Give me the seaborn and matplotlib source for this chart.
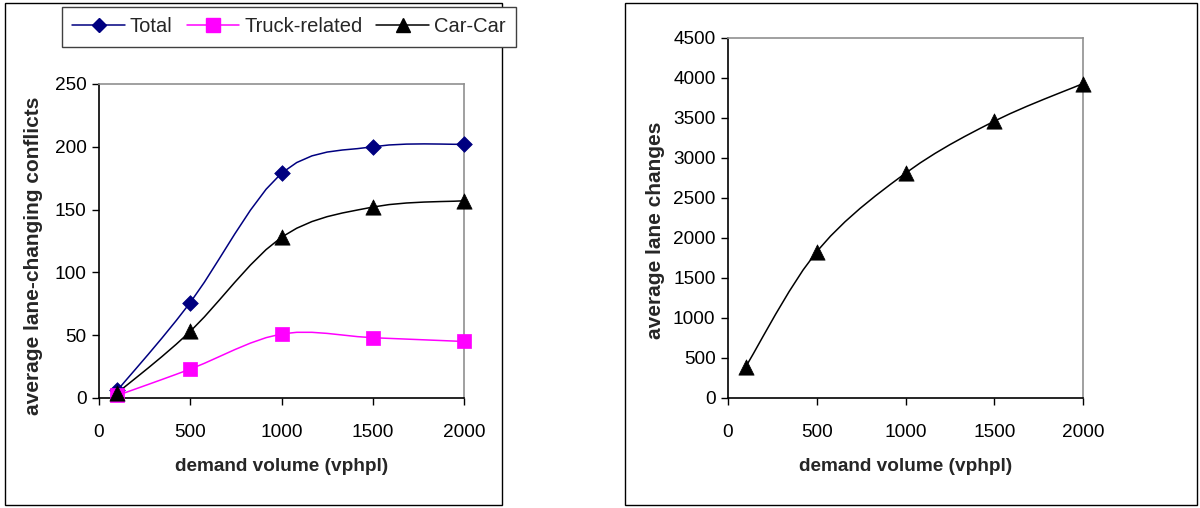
import numpy as np
import pandas as pd
import matplotlib
matplotlib.use("Agg")
import matplotlib.pyplot as plt
from matplotlib.lines import Line2D
from matplotlib.patches import Rectangle
import seaborn as sns

# demand volume (vphpl)
demand = [100, 500, 1000, 1500, 2000]

# average lane-changing conflicts
total = [6, 76, 179, 200, 202]
truck_related = [2, 23, 51, 48, 45]
car_car = [4, 53, 128, 152, 157]

# average lane changes
lane_changes = [390, 1830, 2810, 3460, 3930]

x_ticks = [0, 500, 1000, 1500, 2000]
left_y_ticks = [0, 50, 100, 150, 200, 250]
right_y_ticks = list(range(0, 5000, 500))

sns.set_style("white")
plt.rcParams["font.family"] = ["Liberation Sans", "DejaVu Sans"]


def smooth_path(xs, ys, steps=6):
    """Catmull-Rom curve through the points (spreadsheet-style smoothed line)."""
    p = np.column_stack([xs, ys]).astype(float)
    ext = np.vstack([p[0], p, p[-1]])
    out = []
    for i in range(1, len(ext) - 2):
        p0, p1, p2, p3 = ext[i - 1], ext[i], ext[i + 1], ext[i + 2]
        c1 = p1 + (p2 - p0) / 6.0
        c2 = p2 - (p3 - p1) / 6.0
        t = np.linspace(0, 1, steps + 1)[:-1] if i < len(ext) - 3 else np.linspace(0, 1, steps + 1)
        t = t[:, None]
        seg = ((1 - t) ** 3) * p1 + 3 * ((1 - t) ** 2) * t * c1 + 3 * (1 - t) * t ** 2 * c2 + t ** 3 * p2
        out.append(seg)
    pts = np.vstack(out)
    return pts[:, 0], pts[:, 1]


fig = plt.figure(figsize=(12, 5.08), dpi=100)

# chart-area frames
fig.add_artist(Rectangle((5 / 1200, 1 - 505 / 508), 497 / 1200, 502 / 508,
                         transform=fig.transFigure, fill=False, edgecolor="black", linewidth=1.0))
fig.add_artist(Rectangle((625 / 1200, 1 - 505 / 508), 572 / 1200, 502 / 508,
                         transform=fig.transFigure, fill=False, edgecolor="black", linewidth=1.0))

ax1 = fig.add_axes([99 / 1200, 1 - 398 / 508, 365 / 1200, 314 / 508])
ax2 = fig.add_axes([728 / 1200, 1 - 398 / 508, 355 / 1200, 360 / 508])

series = [
    ("Total", total, "#000080", "D", 8),
    ("Truck-related", truck_related, "#FF00FF", "s", 10),
    ("Car-Car", car_car, "black", "^", 11),
]

handles = []
for name, vals, color, marker, ms in series:
    sx, sy = smooth_path(demand, vals)
    curve = pd.DataFrame({"x": sx, "y": sy})
    sns.lineplot(data=curve, x="x", y="y", ax=ax1, color=color, linewidth=1.1,
                 sort=False, estimator=None)
    pts = pd.DataFrame({"x": demand, "y": vals})
    sns.scatterplot(data=pts, x="x", y="y", ax=ax1, color=color, marker=marker,
                    s=ms ** 2, edgecolor=color, linewidth=0.5, zorder=5)
    handles.append(Line2D([], [], color=color, marker=marker, markersize=ms * 0.95,
                          linewidth=1.1, label=name))

sx, sy = smooth_path(demand, lane_changes)
sns.lineplot(data=pd.DataFrame({"x": sx, "y": sy}), x="x", y="y", ax=ax2,
             color="black", linewidth=1.1, sort=False, estimator=None)
sns.scatterplot(data=pd.DataFrame({"x": demand, "y": lane_changes}), x="x", y="y",
                ax=ax2, color="black", marker="^", s=121, edgecolor="black",
                linewidth=0.5, zorder=5)

for ax, yt, ylab, lab_xy in [(ax1, left_y_ticks, "average lane-changing conflicts", (-0.153, 0.452)),
                             (ax2, right_y_ticks, "average lane changes", (-0.177, 0.467))]:
    ax.set_xlim(0, 2000)
    ax.set_ylim(yt[0], yt[-1])
    ax.set_xticks(x_ticks)
    ax.set_yticks(yt)
    for c in ax.collections:
        c.set_clip_on(False)
    for ln in ax.lines:
        ln.set_clip_on(False)
    ax.tick_params(axis="both", direction="out", length=5, width=1, color="black",
                   labelsize=13.7, labelcolor="black")
    ax.tick_params(axis="x", pad=14)
    ax.tick_params(axis="y", pad=4)
    ax.tick_params(bottom=True, left=True, top=False, right=False)
    ax.spines["left"].set_color("black")
    ax.spines["bottom"].set_color("black")
    ax.spines["top"].set_color("#909090")
    ax.spines["right"].set_color("#909090")
    for sp in ax.spines.values():
        sp.set_linewidth(1.2)
        sp.set_visible(True)
    ax.set_xlabel("demand volume (vphpl)", fontsize=13.7, fontweight="bold", labelpad=12)
    ax.set_ylabel(ylab, fontsize=15, fontweight="bold")
    ax.yaxis.set_label_coords(*lab_xy)

fig.legend(handles=handles, loc="center", bbox_to_anchor=(289 / 1200, 1 - 27 / 508),
           ncol=3, fontsize=14.5, frameon=True, fancybox=False, edgecolor="#404040",
           handlelength=2.6, handletextpad=0.25, columnspacing=0.7,
           borderpad=0.5, framealpha=1)
fig.legends[0].get_frame().set_linewidth(1.0)

fig.savefig("out.png", dpi=100, facecolor="white")
